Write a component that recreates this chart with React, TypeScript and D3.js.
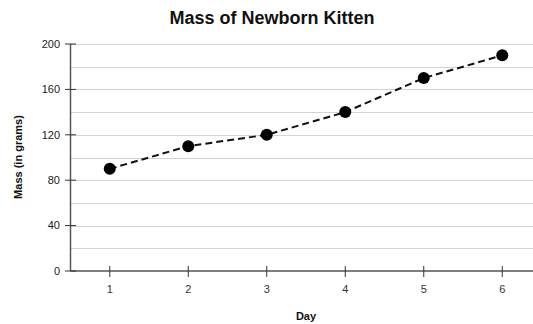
import React from "react";
import * as d3 from "d3";

const days = [1, 2, 3, 4, 5, 6];
const mass = [90, 110, 120, 140, 170, 190];
const yTicks = [0, 40, 80, 120, 160, 200];
const gridValues = [20, 40, 60, 80, 100, 120, 140, 160, 180, 200];

const W = 533;
const H = 324;
const left = 70.5;
const bottom = 271;
const top = 44;

export default function App() {
  const x = d3.scaleLinear().domain([0.5, 6.5]).range([left, 541.5]);
  const y = d3.scaleLinear().domain([0, 200]).range([bottom, top]);
  const line = d3
    .line<number>()
    .x((_, i) => x(days[i]))
    .y((d) => y(d));
  const font = "Liberation Sans, Arial, sans-serif";
  return (
    <svg
      width={W}
      height={H}
      style={{ position: "absolute", left: 0, top: 0, background: "#fff" }}
      fontFamily={font}
    >
      <text x={272} y={24} textAnchor="middle" fontSize={18} fontWeight="bold" fill="#111">
        Mass of Newborn Kitten
      </text>
      {gridValues.map((v) => (
        <line key={v} x1={left} x2={W} y1={Math.round(y(v)) + 0.5} y2={Math.round(y(v)) + 0.5} stroke="#d4d4d4" strokeWidth={1} />
      ))}
      <line x1={left} x2={left} y1={top} y2={bottom} stroke="#555" strokeWidth={1.5} />
      <line x1={left} x2={W} y1={bottom} y2={bottom} stroke="#555" strokeWidth={1.5} />
      {yTicks.map((v) => (
        <g key={v}>
          <line x1={65} x2={76} y1={y(v)} y2={y(v)} stroke="#333" strokeWidth={1} />
          <text x={60} y={y(v)} dy="0.35em" textAnchor="end" fontSize={11} fill="#222">
            {v}
          </text>
        </g>
      ))}
      {days.map((d) => (
        <g key={d}>
          <line x1={x(d)} x2={x(d)} y1={bottom - 5} y2={bottom + 6} stroke="#333" strokeWidth={1} />
          <text x={x(d)} y={293} textAnchor="middle" fontSize={11} fill="#333">
            {d}
          </text>
        </g>
      ))}
      <text x={306} y={320} textAnchor="middle" fontSize={11} fontWeight="bold" fill="#111">
        Day
      </text>
      <text
        transform={`translate(22,157) rotate(-90)`}
        textAnchor="middle"
        fontSize={11}
        fontWeight="bold"
        fill="#111"
      >
        Mass (in grams)
      </text>
      <path d={line(mass) || ""} fill="none" stroke="#111" strokeWidth={2} strokeDasharray="7,4" />
      {mass.map((m, i) => (
        <circle key={i} cx={x(days[i])} cy={y(m)} r={6} fill="#000" />
      ))}
    </svg>
  );
}
